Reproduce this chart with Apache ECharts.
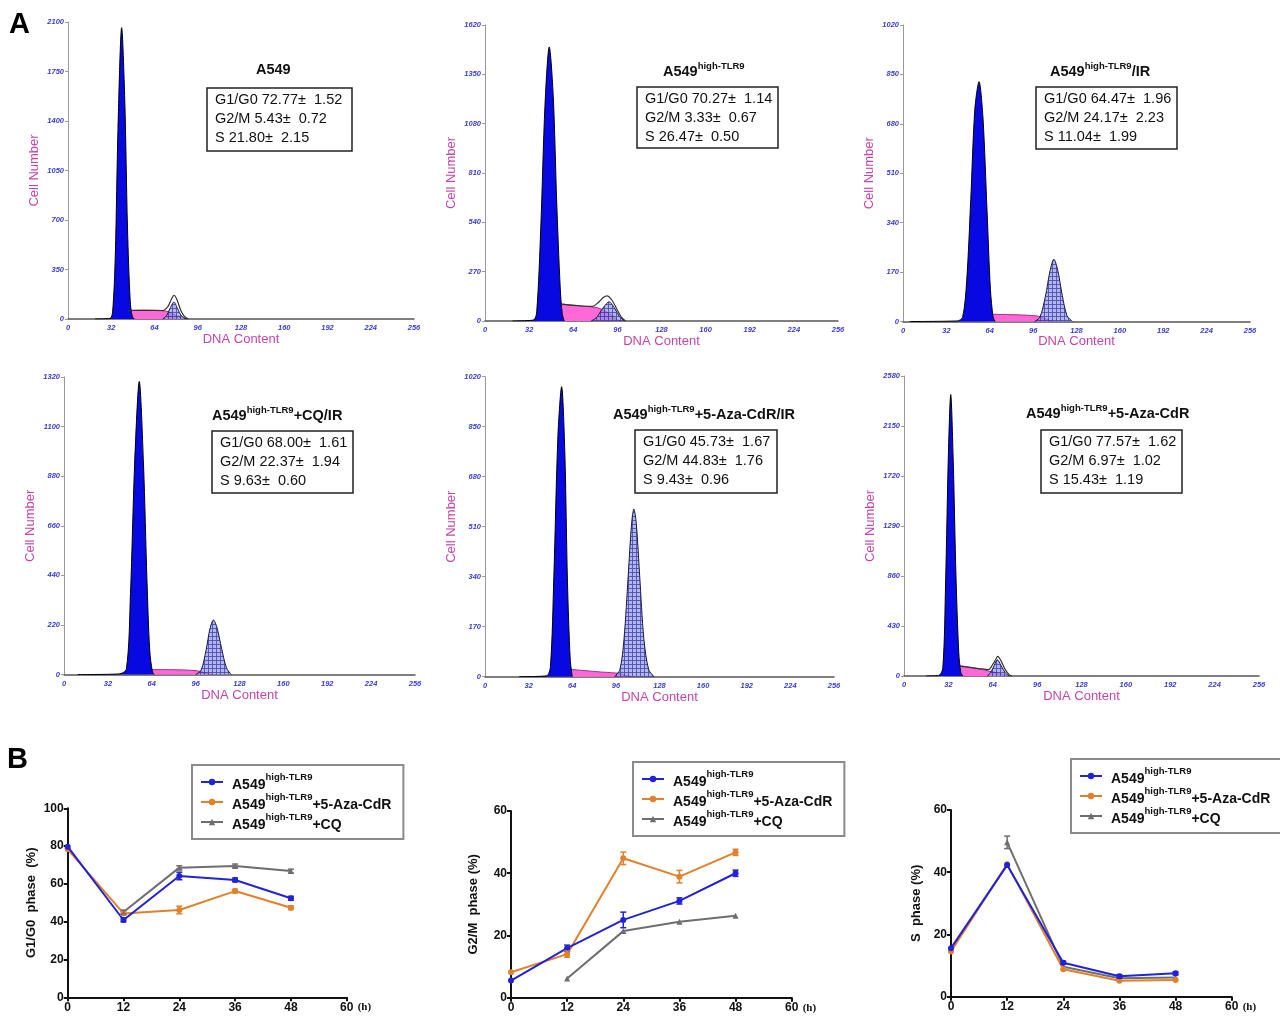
<!DOCTYPE html>
<html>
<head>
<meta charset="utf-8">
<script src="https://cdn.jsdelivr.net/npm/echarts@6/dist/echarts.min.js"></script>
<style>
  html, body { margin: 0; padding: 0; background: #fff; }
  #chart { width: 1280px; height: 1017px; }
</style>
</head>
<body>
<div id="chart"></div>
<script>
// ---------- panel A: DNA content histograms ----------
const dnaMax = 256
const dnaStep = 32
const cellMax = [2100, 1620, 1020, 1320, 1020, 2580]

const panelTitles = [
  ['A549', '', ''],
  ['A549', 'high-TLR9', ''],
  ['A549', 'high-TLR9', '/IR'],
  ['A549', 'high-TLR9', '+CQ/IR'],
  ['A549', 'high-TLR9', '+5-Aza-CdR/IR'],
  ['A549', 'high-TLR9', '+5-Aza-CdR']
]

const g1Mean = [72.77, 70.27, 64.47, 68.00, 45.73, 77.57]
const g1Sd = [1.52, 1.14, 1.96, 1.61, 1.67, 1.62]
const g2Mean = [5.43, 3.33, 24.17, 22.37, 44.83, 6.97]
const g2Sd = [0.72, 0.67, 2.23, 1.94, 1.76, 1.02]
const sMean = [21.80, 26.47, 11.04, 9.63, 9.43, 15.43]
const sSd = [2.15, 0.50, 1.99, 0.60, 0.96, 1.19]

// [DNA content, cell number]
const g1Curve = [
  [[20, 0], [31, 4], [33, 50], [35, 450], [37, 1350], [39.7, 2060], [42, 1550], [44, 650], [46, 130], [47.5, 20], [49, 0]],
  [[20, 0], [35, 5], [37.5, 50], [40.5, 520], [43.5, 1180], [46.6, 1500], [49.5, 1230], [52, 650], [54.5, 190], [56, 40], [57.5, 0]],
  [[5, 0], [40, 2], [44, 15], [47, 140], [50, 420], [53, 730], [56.1, 825], [59, 700], [62, 380], [64.5, 110], [66.5, 15], [68, 0]],
  [[10, 0], [40, 3], [45.5, 25], [48.5, 360], [51.5, 930], [54.9, 1300], [58, 930], [60.5, 420], [62.5, 110], [64.5, 12], [66, 0]],
  [[25, 0], [45, 3], [48, 35], [50.5, 340], [53.5, 820], [56.2, 986], [58.5, 770], [60.5, 320], [62.5, 60], [64, 0]],
  [[16, 0], [25, 5], [28, 70], [30, 800], [32, 1900], [33.7, 2420], [35.5, 1850], [37.5, 850], [39.5, 200], [41, 30], [42.5, 0]]
]
const sCurve = [
  [[43, 0], [44, 60], [55, 62], [65, 60], [73, 55], [78, 35], [83, 12], [87, 0]],
  [[52, 0], [53, 95], [60, 90], [70, 82], [80, 75], [86, 60], [92, 30], [97, 0]],
  [[62, 0], [63, 25], [75, 24], [90, 22], [100, 18], [106, 8], [110, 0]],
  [[60, 0], [61, 22], [75, 22], [90, 20], [98, 16], [104, 6], [108, 0]],
  [[60, 0], [61, 25], [70, 22], [85, 16], [97, 12], [103, 5], [107, 0]],
  [[38, 0], [39, 90], [45, 80], [55, 60], [62, 40], [68, 25], [73, 8], [76, 0]]
]
const g2Curve = [
  [[70, 0], [73, 25], [75.5, 75], [78.4, 120], [81, 75], [84, 22], [88, 0]],
  [[77, 0], [81, 20], [85, 65], [90, 105], [94, 70], [97.5, 25], [101, 0]],
  [[97, 0], [101, 15], [105, 85], [108.5, 175], [111.3, 214], [114, 180], [117.5, 90], [121, 20], [125, 0]],
  [[96, 0], [100, 20], [103.5, 105], [106.5, 205], [109, 242], [111.5, 210], [115, 115], [118.5, 30], [122, 0]],
  [[95, 0], [99, 25], [102, 130], [105, 340], [107.5, 520], [109.2, 570], [111, 520], [113.5, 340], [116.5, 130], [120, 25], [124, 0]],
  [[60, 0], [62.5, 30], [65, 90], [67.3, 140], [70, 90], [73, 28], [76, 0]]
]
// overall fit outline where it stands above the G2 peak
const fitCurve = [
  [[44, 60], [60, 61], [70, 60], [74, 90], [76.5, 140], [78.4, 168], [80.5, 140], [83.5, 60], [86, 20], [89, 0]],
  [[55, 92], [70, 82], [78, 80], [82, 100], [86, 130], [88.5, 138], [92, 115], [96, 60], [99, 20], [102, 0]],
  null,
  null,
  null,
  [[40, 85], [55, 62], [61, 55], [64, 100], [66.5, 150], [67.5, 168], [70, 130], [73, 55], [76, 10], [78, 0]]
]

// ---------- panel B: phase distribution over time ----------
const hours = [0, 12, 24, 36, 48]
const groupNames = ['A549high-TLR9', 'A549high-TLR9+5-Aza-CdR', 'A549high-TLR9+CQ']
const groupColors = ['#2222d6', '#e0812c', '#6e6e6e']
const groupSymbols = ['circle', 'circle', 'triangle']

const g1Phase = [
  [79.7, 40.9, 64.2, 62.1, 52.4],
  [78.3, 44.4, 46.2, 56.2, 47.4],
  [null, 45.1, 68.6, 69.5, 66.8]
]
const g1PhaseErr = [
  [0, 1, 2, 1, 1],
  [0, 1, 2, 1, 1],
  [0, 1, 1, 1, 1]
]
const g2Phase = [
  [5.5, 15.9, 25.0, 31.1, 40.0],
  [8.2, 14.0, 44.8, 38.9, 46.7],
  [null, 6.2, 21.4, 24.4, 26.3]
]
const g2PhaseErr = [
  [0, 1, 2.5, 1, 1],
  [0, 1, 2, 2, 1],
  [0, 0, 0, 0, 0]
]
const sPhase = [
  [15.6, 42.3, 10.9, 6.6, 7.5],
  [14.5, 42.6, 8.8, 5.1, 5.4],
  [null, 49.6, 9.6, 5.9, 6.2]
]
const sPhaseErr = [
  [0, 0, 0.5, 0.5, 0.5],
  [0, 0, 0, 0, 0],
  [0, 2, 0, 0, 0]
]
const phaseMax = [100, 60, 60]
const phaseLabels = ['G1/G0  phase  (%)', 'G2/M  phase (%)', 'S  phase (%)']

// ---------- layout ----------
const histGrids = [
  { left: 68, top: 22, width: 346, height: 297 },
  { left: 485, top: 25, width: 353, height: 296 },
  { left: 903, top: 25, width: 347, height: 296.5 },
  { left: 64, top: 377, width: 351, height: 297.6 },
  { left: 485, top: 376.7, width: 349, height: 300 },
  { left: 904, top: 376, width: 355, height: 300 }
]
const titlePos = [[256, 71], [663, 70], [1050, 70], [212, 414], [613, 413], [1026, 412]]
const statBox = [[207, 88, 145, 63], [637, 87, 141, 61], [1036, 87, 141, 62], [212, 431, 141, 62], [635, 430, 142, 63], [1041, 430, 141, 63]]
const lineGrids = [
  { left: 67.7, top: 808.3, width: 279, height: 189 },
  { left: 511, top: 811, width: 280.7, height: 186.7 },
  { left: 951, top: 810, width: 280.7, height: 186.7 }
]
const legendPos = [[192, 765], [633, 762], [1071, 759]]
const yNameGap = [30, 31, 28]

const FONT = 'Liberation Sans, Arial, sans-serif'
const PINK = '#c545a8'
const TICKBLUE = '#3a3ad0'

// cross-hatch used for the G2/M peak
const hatch = document.createElement('canvas')
hatch.width = 4
hatch.height = 4
const hc = hatch.getContext('2d')
hc.fillStyle = 'rgba(140,150,235,0.82)'
hc.fillRect(0, 0, 4, 4)
hc.fillStyle = 'rgba(45,45,160,0.85)'
hc.fillRect(0, 0, 4, 1)
hc.fillRect(0, 0, 1, 4)

const grid = []
const xAxis = []
const yAxis = []
const series = []
const graphic = []

histGrids.forEach((g, i) => {
  grid.push(Object.assign({ containLabel: false }, g))
  xAxis.push({
    type: 'value', gridIndex: i, min: 0, max: dnaMax, interval: dnaStep,
    name: 'DNA Content', nameLocation: 'middle', nameGap: 12,
    nameTextStyle: { color: PINK, fontSize: 13, fontFamily: FONT },
    axisLine: { lineStyle: { color: '#555', width: 1.5 } },
    axisTick: { show: false },
    splitLine: { show: false },
    axisLabel: { formatter: v => String(v), color: TICKBLUE, fontSize: 7.5, fontStyle: 'italic', fontWeight: 'bold', margin: 5, fontFamily: FONT }
  })
  yAxis.push({
    type: 'value', gridIndex: i, min: 0, max: cellMax[i], interval: cellMax[i] / 6,
    name: 'Cell Number', nameLocation: 'middle', nameGap: 27, nameRotate: 90,
    nameTextStyle: { color: PINK, fontSize: 13, fontFamily: FONT },
    axisLine: { show: true, lineStyle: { color: '#9a9a9a', width: 1 } },
    axisTick: { show: true, length: 3, lineStyle: { color: '#9a9a9a' } },
    splitLine: { show: false },
    axisLabel: { formatter: v => String(v), color: TICKBLUE, fontSize: 7.5, fontStyle: 'italic', fontWeight: 'bold', margin: 4, fontFamily: FONT }
  })
  const base = { type: 'line', xAxisIndex: i, yAxisIndex: i, symbol: 'none', smooth: 0.3, silent: true, animation: false }
  series.push(Object.assign({}, base, {
    data: sCurve[i], z: 1, smooth: 0.2,
    lineStyle: { color: '#9c2f86', width: 1 },
    areaStyle: { color: '#ff68d6', opacity: 1 }
  }))
  series.push(Object.assign({}, base, {
    data: g1Curve[i], z: 2,
    lineStyle: { color: '#000', width: 1 },
    areaStyle: { color: '#0808e0', opacity: 1 }
  }))
  series.push(Object.assign({}, base, {
    data: g2Curve[i], z: 3,
    lineStyle: { color: '#1a1a40', width: 1 },
    areaStyle: { color: { image: hatch, repeat: 'repeat' }, opacity: 0.85 }
  }))
  if (fitCurve[i]) {
    series.push(Object.assign({}, base, {
      data: fitCurve[i], z: 4,
      lineStyle: { color: '#333', width: 1.2 }
    }))
  }

  const t = panelTitles[i]
  let txt = '{m|' + t[0] + '}'
  if (t[1]) txt += '{s|' + t[1] + '}'
  if (t[2]) txt += '{m|' + t[2] + '}'
  graphic.push({
    type: 'text', left: titlePos[i][0], top: titlePos[i][1] - 9, z: 10,
    style: {
      text: txt,
      rich: {
        m: { fontSize: 14.5, fontWeight: 'bold', fontFamily: FONT, fill: '#111', lineHeight: 18, verticalAlign: 'bottom' },
        s: { fontSize: 9.5, fontWeight: 'bold', fontFamily: FONT, fill: '#111', lineHeight: 11, verticalAlign: 'top' }
      }
    }
  })
  const b = statBox[i]
  graphic.push({
    type: 'rect', z: 10,
    shape: { x: b[0], y: b[1], width: b[2], height: b[3] },
    style: { fill: '#fff', stroke: '#222', lineWidth: 1.5 }
  })
  const lines = [
    'G1/G0 ' + g1Mean[i].toFixed(2) + '±  ' + g1Sd[i].toFixed(2),
    'G2/M ' + g2Mean[i].toFixed(2) + '±  ' + g2Sd[i].toFixed(2),
    'S ' + sMean[i].toFixed(2) + '±  ' + sSd[i].toFixed(2)
  ]
  lines.forEach((l, k) => {
    graphic.push({
      type: 'text', z: 11, left: b[0] + 8, top: b[1] + 4 + k * 19.3,
      style: { text: l, fontSize: 14.5, fontFamily: FONT, fill: '#111' }
    })
  })
})

function errSeries(axis, vals, errs, color) {
  const data = []
  hours.forEach((h, k) => {
    if (vals[k] != null && errs[k]) data.push([h, vals[k] - errs[k], vals[k] + errs[k]])
  })
  return {
    type: 'custom', xAxisIndex: axis, yAxisIndex: axis, silent: true, z: 5, animation: false,
    encode: { x: 0, y: [1, 2] },
    data: data,
    renderItem(params, api) {
      const lo = api.coord([api.value(0), api.value(1)])
      const hi = api.coord([api.value(0), api.value(2)])
      const st = { stroke: color, lineWidth: 1.5 }
      return {
        type: 'group',
        children: [
          { type: 'line', shape: { x1: lo[0], y1: lo[1], x2: hi[0], y2: hi[1] }, style: st },
          { type: 'line', shape: { x1: lo[0] - 3, y1: lo[1], x2: lo[0] + 3, y2: lo[1] }, style: st },
          { type: 'line', shape: { x1: hi[0] - 3, y1: hi[1], x2: hi[0] + 3, y2: hi[1] }, style: st }
        ]
      }
    }
  }
}

const phaseData = [g1Phase, g2Phase, sPhase]
const phaseErr = [g1PhaseErr, g2PhaseErr, sPhaseErr]
const legend = []

lineGrids.forEach((g, j) => {
  const axis = histGrids.length + j
  grid.push(Object.assign({ containLabel: false }, g))
  xAxis.push({
    type: 'value', gridIndex: axis, min: 0, max: 60, interval: 12,
    name: '(h)', nameLocation: 'end', nameGap: 11,
    nameTextStyle: { fontSize: 11, fontWeight: 'bold', fontFamily: 'Liberation Serif, serif', color: '#111', verticalAlign: 'top', lineHeight: 14, padding: [3, 0, 0, 0] },
    axisLine: { lineStyle: { color: '#111', width: 2 } },
    axisTick: { show: true, length: 4, lineStyle: { color: '#111', width: 2 } },
    splitLine: { show: false },
    axisLabel: { color: '#111', fontSize: 12, fontWeight: 'bold', fontFamily: FONT, margin: 4 }
  })
  yAxis.push({
    type: 'value', gridIndex: axis, min: 0, max: phaseMax[j], interval: 20,
    name: phaseLabels[j], nameLocation: 'middle', nameRotate: 90, nameGap: yNameGap[j],
    nameTextStyle: { fontSize: 13, fontWeight: 'bold', fontFamily: FONT, color: '#111' },
    axisLine: { show: true, lineStyle: { color: '#111', width: 2 } },
    axisTick: { show: true, length: 4, lineStyle: { color: '#111', width: 2 } },
    splitLine: { show: false },
    axisLabel: { color: '#111', fontSize: 12, fontWeight: 'bold', fontFamily: FONT, margin: 4 }
  })
  groupNames.forEach((name, k) => {
    const vals = phaseData[j][k]
    series.push({
      type: 'line', name: name, xAxisIndex: axis, yAxisIndex: axis,
      data: hours.map((h, n) => [h, vals[n]]).filter(p => p[1] != null),
      symbol: groupSymbols[k], symbolSize: 6,
      lineStyle: { color: groupColors[k], width: 2 },
      itemStyle: { color: groupColors[k] },
      z: 4 - k, animation: false
    })
    series.push(errSeries(axis, vals, phaseErr[j][k], groupColors[k]))
  })
  legend.push({
    data: groupNames,
    left: legendPos[j][0], top: legendPos[j][1],
    orient: 'vertical',
    backgroundColor: '#fff',
    borderColor: '#8a8a8a', borderWidth: 2, borderRadius: 0,
    padding: [7, 12, 7, 8],
    itemGap: 0, itemWidth: 22, itemHeight: 8,
    selectedMode: false,
    formatter: name => {
      const tail = name.slice('A549high-TLR9'.length)
      return '{m|A549}{s|high-TLR9}' + (tail ? '{m|' + tail + '}' : '')
    },
    textStyle: {
      padding: [0, 0, 0, 4],
      rich: {
        m: { fontSize: 14, fontWeight: 'bold', fontFamily: FONT, color: '#111', lineHeight: 20, verticalAlign: 'bottom' },
        s: { fontSize: 9.5, fontWeight: 'bold', fontFamily: FONT, color: '#111', lineHeight: 12, verticalAlign: 'top' }
      }
    }
  })
})

graphic.push({ type: 'text', left: 9, top: 10, style: { text: 'A', fontSize: 29, fontWeight: 'bold', fontFamily: FONT, fill: '#000' } })
graphic.push({ type: 'text', left: 7, top: 745, style: { text: 'B', fontSize: 29, fontWeight: 'bold', fontFamily: FONT, fill: '#000' } })

const chart = echarts.init(document.getElementById('chart'))
chart.setOption({
  backgroundColor: '#fff',
  animation: false,
  textStyle: { fontFamily: FONT },
  grid, xAxis, yAxis, series, legend, graphic
})
</script>
</body>
</html>
